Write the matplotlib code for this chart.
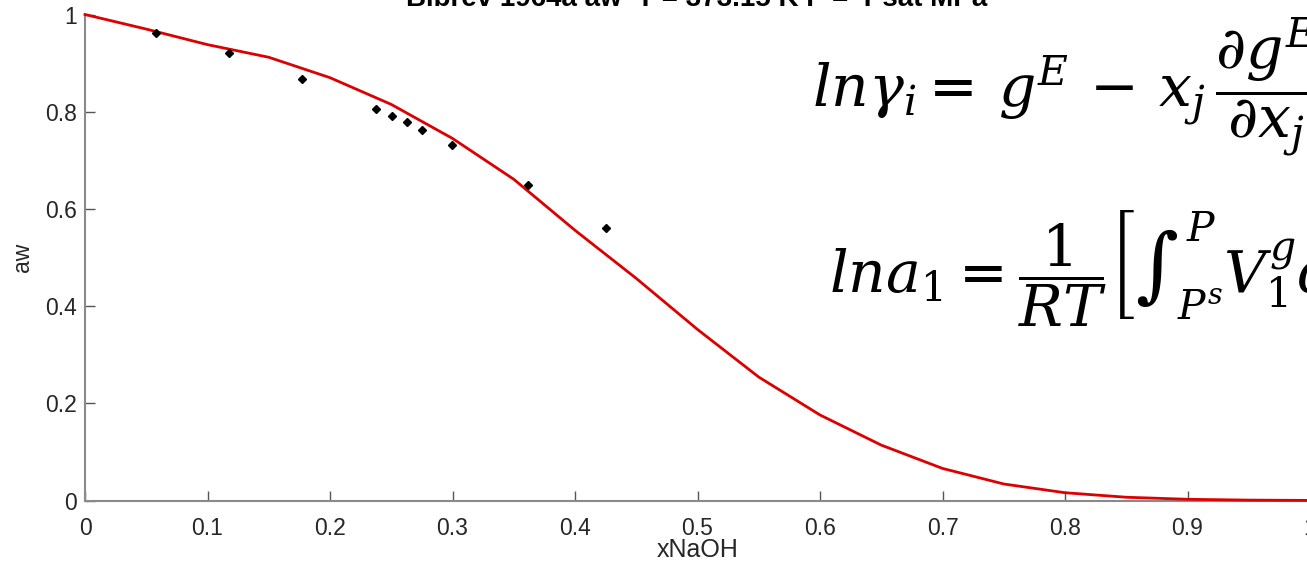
import numpy as np
import matplotlib
matplotlib.use("Agg")
import matplotlib.pyplot as plt

# measured points (Bibrev 1964a)
x_exp = [0.0577, 0.1177, 0.177, 0.2376, 0.2508, 0.263, 0.275, 0.2998, 0.3616, 0.4257]
aw_exp = [0.962, 0.921, 0.868, 0.806, 0.792, 0.778, 0.763, 0.731, 0.650, 0.560]

# model curve
x_mod = [0.0, 0.05, 0.1, 0.15, 0.2, 0.25, 0.3, 0.35, 0.4, 0.45, 0.5,
         0.55, 0.6, 0.65, 0.7, 0.75, 0.8, 0.85, 0.9, 0.95, 1.0]
aw_mod = [1.0, 0.970, 0.938, 0.912, 0.870, 0.815, 0.745, 0.661, 0.556, 0.457, 0.352,
          0.254, 0.176, 0.114, 0.066, 0.034, 0.016, 0.0067, 0.0025, 0.0008, 0.0002]

xticks = [0, 0.1, 0.2, 0.3, 0.4, 0.5, 0.6, 0.7, 0.8, 0.9, 1]
yticks = [0, 0.2, 0.4, 0.6, 0.8, 1]
title = "Bibrev 1964a aw  T = 373.15 K P =  Psat MPa"

plt.rcParams['font.family'] = ['Liberation Sans', 'DejaVu Sans']
plt.rcParams['mathtext.fontset'] = 'dejavuserif'

W, H = 1307, 563
fig = plt.figure(figsize=(W / 100, H / 100), dpi=100)
ax = fig.add_axes([85 / W, 1 - 500.5 / H, 1225 / W, 486 / H])

axcol = '#8a8a8a'
ax.plot(x_mod, aw_mod, color='#dd0000', lw=2.0, clip_on=False, zorder=3)
ax.plot(x_exp, aw_exp, 'D', color='black', ms=4.5, zorder=4)

ax.set_xlim(0, 1)
ax.set_ylim(0, 1)
ax.set_xticks(xticks)
ax.set_xticklabels([f"{v:g}" for v in xticks], fontsize=16.5)
ax.set_yticks(yticks)
ax.set_yticklabels([f"{v:g}" for v in yticks], fontsize=16.5)
for s in ['top', 'right']:
    ax.spines[s].set_visible(False)
for s in ['left', 'bottom']:
    ax.spines[s].set_color(axcol)
    ax.spines[s].set_linewidth(1.5)
ax.tick_params(direction='in', length=7, width=1, color='#555555',
               labelcolor='#262626')
ax.tick_params(axis='x', pad=12)
ax.tick_params(axis='y', pad=6)
ax.set_xlabel('xNaOH', fontsize=18, color='#262626')
ax.xaxis.set_label_coords(0.5, -0.077)
ax.set_ylabel('aw', fontsize=16.5, color='#262626', labelpad=8)

fig.text(697 / W, 1 - 6 / H, title, ha='center', va='baseline',
         fontsize=20, fontweight='bold', color='black')

# equations pasted over the plot
fig.text(812 / W, 1 - 108 / H,
         r'$ln\gamma_i = \,g^E \,-\, x_j\,\dfrac{\partial g^E}{\partial x_j}$',
         fontsize=42, ha='left', va='baseline', color='black')
fig.text(829 / W, 1 - 292 / H,
         r'$ln a_1 = \dfrac{1}{RT}\left[\int_{P^s}^{P} V_1^g dP\right]$',
         fontsize=42, ha='left', va='baseline', color='black')

fig.savefig('out.png', dpi=100)
